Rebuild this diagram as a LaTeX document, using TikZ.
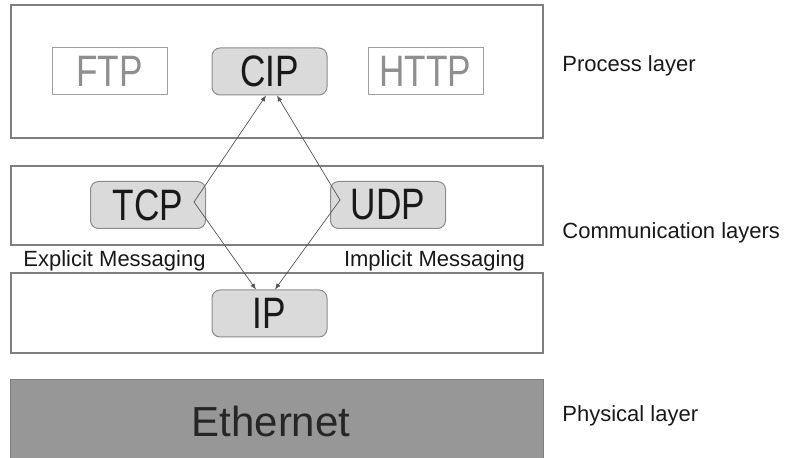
\documentclass[tikz,border=0pt]{standalone}
\usepackage{fontspec}
\setmainfont{Liberation Sans}
\usepackage{tikz}
\usepackage{xcolor}
\usetikzlibrary{arrows.meta}
\definecolor{layerline}{HTML}{7F7F7F}
\definecolor{protofill}{HTML}{DADADA}
\definecolor{protoline}{HTML}{8C8C8C}
\definecolor{ghostline}{HTML}{A0A0A0}
\definecolor{ghosttext}{HTML}{8F8F8F}
\definecolor{ethfill}{HTML}{979797}
\definecolor{linkcol}{HTML}{555555}
\newcommand{\narrowtext}[1]{\scalebox{0.8}[1]{#1}}

\begin{document}
\begin{tikzpicture}[x=0.5pt,y=-0.5pt,
  layer/.style={draw=layerline,line width=0.7pt,minimum width=266pt,inner sep=0pt},
  proto/.style={draw=protoline,fill=protofill,line width=0.5pt,rounded corners=4pt,minimum width=57.5pt,minimum height=23.5pt,inner sep=0pt,text=black!90,font=\fontsize{22}{24}\selectfont},
  ghost/.style={draw=ghostline,line width=0.5pt,minimum width=57.5pt,minimum height=23.5pt,inner sep=0pt,text=ghosttext,font=\fontsize{22}{24}\selectfont},
  small/.style={anchor=base,inner sep=0pt,text=black!90,font=\fontsize{11}{13}\selectfont},
  side/.style={small,anchor=base west},
  link/.style={draw=linkcol,line width=0.35pt,{Latex[length=3pt,width=2.4pt]}-{Latex[length=3pt,width=2.4pt]}}]
\useasboundingbox (0,0) rectangle (787,458);

% layers
\node[layer,minimum height=66.5pt] (process) at (277,71.5) {};
\node[layer,minimum height=39.5pt] (comm) at (277,205.5) {};
\node[layer,minimum height=40pt] (net) at (277,313) {};
\node[fill=ethfill,minimum width=266pt,minimum height=39pt,inner sep=0pt] (eth) at (277,419) {};
\draw[layerline,line width=0.7pt] (eth.south west) |- (eth.north east) -- (eth.south east);
\node[anchor=base,inner sep=0pt,text=black!85,font=\fontsize{21}{24}\selectfont] (ethlabel) at (271,437) {Ethernet};

% protocols
\node[ghost] (ftp) at (109.5,71.5) {\narrowtext{FTP}};
\node[proto] (cip) at (269.5,71.5) {\narrowtext{CIP}};
\node[ghost] (http) at (425.5,71.5) {\narrowtext{HTTP}};
\node[proto] (tcp) at (148,205) {\narrowtext{TCP}};
\node[proto] (udp) at (388,205) {\narrowtext{UDP}};
\node[proto] (ip) at (269.5,313.5) {\narrowtext{IP}};

\node[small] (explicit) at (114.5,267) {Explicit Messaging};
\node[small] (implicit) at (434.5,267) {Implicit Messaging};

\node[side] (proclabel) at (562,72) {Process layer};
\node[side] (commlabel) at (562,239) {Communication layers};
\node[side] (physlabel) at (562,422) {Physical layer};

% messaging paths
\coordinate (tcpbend) at (194,202);
\coordinate (udpbend) at (340,200);
\draw[link] ([xshift=-1.75pt]cip.south) -- (tcpbend) -- ([xshift=-6.75pt]ip.north);
\draw[link] ([xshift=3.75pt]cip.south) -- (udpbend) -- ([xshift=2.75pt]ip.north);
\end{tikzpicture}
\end{document}
